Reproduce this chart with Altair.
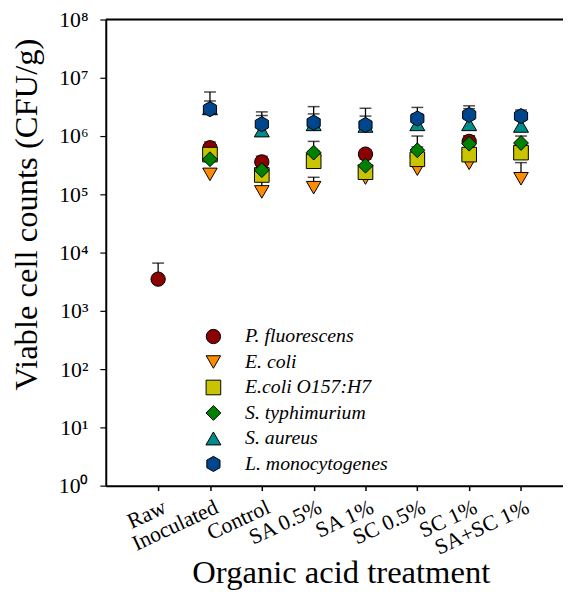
import altair as alt
import pandas as pd

categories = ["Raw", "Inoculated", "Control", "SA 0.5%", "SA 1%", "SC 0.5%", "SC 1%", "SA+SC 1%"]
series = ["P. fluorescens", "E. coli", "E.coli O157:H7", "S. typhimurium", "S. aureus", "L. monocytogenes"]

# mean counts (CFU/g), None = not measured
p_fluorescens = [3500, 6.3e5, 3.6e5, 4.5e5, 4.9e5, 4.5e5, 8.1e5, 6.0e5]
e_coli = [None, 2.2e5, 1.1e5, 1.3e5, 1.9e5, 2.7e5, 3.4e5, 1.85e5]
e_coli_o157 = [None, 4.8e5, 2.15e5, 3.7e5, 2.4e5, 4.0e5, 4.8e5, 5.2e5]
s_typhimurium = [None, 4.0e5, 2.6e5, 5.2e5, 3.1e5, 5.7e5, 7.4e5, 7.6e5]
s_aureus = [None, 3.0e6, 1.25e6, 1.6e6, 1.5e6, 1.6e6, 1.6e6, 1.5e6]
l_monocytogenes = [None, 2.9e6, 1.6e6, 1.7e6, 1.55e6, 2.0e6, 2.3e6, 2.2e6]

# upper end of error bars
p_fluorescens_up = [6600, 7.9e5, 4.5e5, 5.5e5, 5.8e5, 5.5e5, 1.0e6, 7.5e5]
e_coli_up = [None, 2.6e5, 1.7e5, 1.96e5, 2.4e5, 3.5e5, 4.5e5, 3.5e5]
e_coli_o157_up = [None, 6.9e5, 2.8e5, 5.0e5, 3.0e5, 6.5e5, 7.0e5, 7.0e5]
s_typhimurium_up = [None, 5.0e5, 3.3e5, 8.1e5, 4.0e5, 1.0e6, 1.0e6, 1.0e6]
s_aureus_up = [None, 4.0e6, 2.25e6, 2.4e6, 2.2e6, 2.4e6, 2.95e6, 2.2e6]
l_monocytogenes_up = [None, 5.7e6, 2.6e6, 3.2e6, 3.0e6, 3.1e6, 3.3e6, 2.8e6]

values = [p_fluorescens, e_coli, e_coli_o157, s_typhimurium, s_aureus, l_monocytogenes]
uppers = [p_fluorescens_up, e_coli_up, e_coli_o157_up, s_typhimurium_up, s_aureus_up, l_monocytogenes_up]

colors = ["#8B0000", "#FF8C00", "#C8C400", "#008000", "#008B8B", "#00468C"]
hexagon = "M0,-1L0.87,-0.5L0.87,0.5L0,1L-0.87,0.5L-0.87,-0.5Z"
shapes = ["circle", "triangle-down", "square", "diamond", "triangle-up", hexagon]
sizes = [210, 235, 190, 260, 235, 235]

rows = []
for s, vals, ups in zip(series, values, uppers):
    for i, (v, u) in enumerate(zip(vals, ups)):
        if v is None:
            continue
        rows.append({"series": s, "idx": i, "value": v, "upper": u})
df = pd.DataFrame(rows)

FONT = "'Liberation Serif', 'Times New Roman', Times, serif"
cat_js = "[" + ",".join('"%s"' % c for c in categories) + "]"
sup_js = "['⁰','¹','²','³','⁴','⁵','⁶','⁷','⁸']"

x_enc = alt.X(
    "idx:Q",
    scale=alt.Scale(domain=[-1.01, 7.81], nice=False, zero=False),
    axis=alt.Axis(
        values=list(range(len(categories))),
        labelExpr=cat_js + "[datum.value]",
        labelAngle=335,
        labelAlign="right",
        labelBaseline="top",
        labelFontSize=22,
        labelPadding=6,
        labelOffset=2,
        labelOverlap=False,
        labelBound=False,
        labelFont=FONT,
        labelColor="black",
        title="Organic acid treatment",
        titleFontSize=33,
        titleFont=FONT,
        titleFontWeight="normal",
        titleColor="black",
        titleX=238,
        titleY=98,
        titleAlign="center",
        titleBaseline="alphabetic",
        grid=False,
        domainColor="black",
        domainWidth=2,
        tickColor="black",
        tickWidth=1.5,
        tickSize=5,
    ),
)

y_scale = alt.Scale(type="log", domain=[1, 1e8], nice=False)
y_enc = alt.Y(
    "value:Q",
    scale=y_scale,
    axis=alt.Axis(
        values=[10 ** k for k in range(9)],
        labelExpr="'10' + " + sup_js + "[round(log(datum.value)/LN10)]",
        labelFontSize=22,
        labelFont=FONT,
        labelColor="black",
        labelPadding=12,
        labelOverlap=False,
        title="Viable cell counts (CFU/g)",
        titleFontSize=33,
        titleFont=FONT,
        titleFontWeight="normal",
        titleColor="black",
        titleAngle=270,
        titleX=-70,
        titleY=197,
        titleAlign="center",
        titleBaseline="alphabetic",
        grid=False,
        domainColor="black",
        domainWidth=2,
        tickColor="black",
        tickWidth=1.2,
        tickSize=6,
    ),
)

legend_kw = dict(
    title=None,
    orient="none",
    legendX=99,
    legendY=311,
    padding=0,
    labelFont=FONT,
    labelFontSize=20,
    labelFontStyle="italic",
    labelColor="black",
    labelOffset=22,
    symbolStrokeColor="black",
    symbolStrokeWidth=1,
    symbolFillColor="black",
    rowPadding=5.8,
)

base = alt.Chart(df)

err = base.mark_rule(color="black", strokeWidth=1.3).encode(
    x=x_enc, y=y_enc, y2="upper:Q"
)
cap = base.mark_tick(color="black", orient="horizontal", size=12, thickness=1.5).encode(
    x="idx:Q", y=alt.Y("upper:Q", scale=y_scale)
)
pts = base.mark_point(filled=False, opacity=1, fillOpacity=1, stroke="black", strokeWidth=1).encode(
    x="idx:Q",
    y=alt.Y("value:Q", scale=y_scale),
    fill=alt.Fill("series:N", scale=alt.Scale(domain=series, range=colors),
                  legend=alt.Legend(**legend_kw)),
    shape=alt.Shape("series:N", scale=alt.Scale(domain=series, range=shapes),
                    legend=alt.Legend(**legend_kw)),
    size=alt.Size("series:N", scale=alt.Scale(domain=series, range=sizes),
                  legend=alt.Legend(**legend_kw)),
)
top = alt.Chart(pd.DataFrame({"top": [1e8]})).mark_rule(color="black", strokeWidth=2).encode(
    y=alt.Y("top:Q", scale=y_scale), x=alt.value(0), x2=alt.value("width")
)

chart = alt.layer(err, cap, pts, top).properties(
    width=463, height=472,
    autosize=alt.AutoSizeParams(type="none"),
    padding={"left": 99, "top": 8, "right": 0, "bottom": 102},
).configure_view(stroke=None).configure(font=FONT)

chart.save("out.html", embed_options={"renderer": "svg", "actions": False})
